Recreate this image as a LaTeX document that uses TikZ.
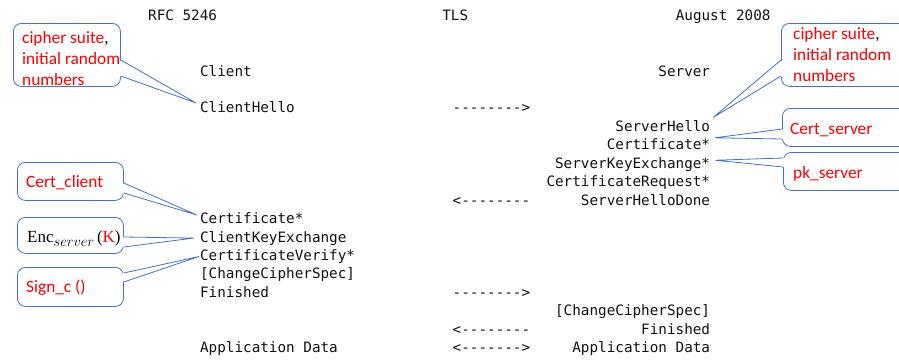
\documentclass[tikz,border=0pt]{standalone}
\usepackage{fontspec}
\setmainfont{Carlito}
\newfontfamily\monofont{DejaVu Sans Mono}
\newfontfamily\encfont{Liberation Serif}
\usetikzlibrary{calc}
\definecolor{callblue}{HTML}{4472C4}
\definecolor{notered}{HTML}{FF0000}
\definecolor{msgink}{HTML}{111111}

% pointer wedge of a callout: #1,#2 base points on the box edge, #3 tip, #4 inward shift
\newcommand\calloutwedge[4]{%
  \fill[white] ($#1+(#4,0)$) -- #3 -- ($#2+(#4,0)$) -- cycle;
  \draw[pointer] #1 -- #3 -- #2;}

\begin{document}
\begin{tikzpicture}[x=1pt,y=-1pt,
  msg/.style={font=\monofont\fontsize{14.3}{17}\selectfont, text=msgink, inner sep=0pt},
  lmsg/.style={msg, anchor=base west},
  rmsg/.style={msg, anchor=base east},
  callbox/.style={draw=callblue, line width=0.8pt, fill=white, rounded corners=8pt,
                  inner sep=0pt, anchor=north west},
  note/.style={font=\fontsize{17.3}{21}\selectfont, text=notered, inner sep=0pt, anchor=base west},
  pointer/.style={draw=callblue, line width=0.8pt, line join=miter}
]
\useasboundingbox (0,0) rectangle (899,360);

% ---- header line
\node[lmsg] (rfc)  at (148,20.6)    {RFC 5246};
\node[lmsg] (tls)  at (442.1,20.6)  {TLS};
\node[lmsg] (date) at (675.6,20.6)  {August 2008};

% ---- client column
\node[lmsg] (client)   at (199.9,76)     {Client};
\node[lmsg] (chello)   at (199.9,112.9)  {ClientHello};
\node[lmsg] (ccert)    at (199.9,223.6)  {Certificate*};
\node[lmsg] (ckex)     at (199.9,242.05) {ClientKeyExchange};
\node[lmsg] (cverify)  at (199.9,260.5)  {CertificateVerify*};
\node[lmsg] (cccs)     at (199.9,278.95) {[ChangeCipherSpec]};
\node[lmsg] (cfin)     at (199.9,297.4)  {Finished};
\node[lmsg] (cappdata) at (199.9,352.75) {Application Data};

% ---- server column
\node[rmsg] (server)   at (710.3,76)     {Server};
\node[rmsg] (shello)   at (710.3,131.35) {ServerHello};
\node[rmsg] (scert)    at (710.3,149.8)  {Certificate*};
\node[rmsg] (skex)     at (710.3,168.25) {ServerKeyExchange*};
\node[rmsg] (sreq)     at (710.3,186.7)  {CertificateRequest*};
\node[rmsg] (sdone)    at (710.3,205.15) {ServerHelloDone};
\node[rmsg] (sccs)     at (710.3,315.85) {[ChangeCipherSpec]};
\node[rmsg] (sfin)     at (710.3,334.3)  {Finished};
\node[rmsg] (sappdata) at (710.3,352.75) {Application Data};

% ---- flow arrows
\node[lmsg] (a1) at (452.5,112.9)  {-{}-{}-{}-{}-{}-{}-{}->};
\node[lmsg] (a2) at (452.5,205.15) {<-{}-{}-{}-{}-{}-{}-{}-};
\node[lmsg] (a3) at (452.5,297.4)  {-{}-{}-{}-{}-{}-{}-{}->};
\node[lmsg] (a4) at (452.5,334.3)  {<-{}-{}-{}-{}-{}-{}-{}-};
\node[lmsg] (a5) at (452.5,352.75) {<-{}-{}-{}-{}-{}-{}->};

% ---- callout boxes
\node[callbox, minimum width=107pt, minimum height=63pt] (c1) at (13,23)  {};
\node[callbox, minimum width=106pt, minimum height=38pt] (c2) at (17,162) {};
\node[callbox, minimum width=106pt, minimum height=36pt] (c3) at (17,217) {};
\node[callbox, minimum width=106pt, minimum height=39pt] (c4) at (17,267) {};
\node[callbox, minimum width=130pt, minimum height=63pt] (c5) at (781,23)  {};
\node[callbox, minimum width=130pt, minimum height=38pt] (c6) at (782,108) {};
\node[callbox, minimum width=130pt, minimum height=38pt] (c7) at (783,152) {};

% ---- callout pointers
\calloutwedge{($(c1.north east)+(0,37)$)}{($(c1.north east)+(0,53)$)}{($(chello.base west)+(-4,-10)$)}{-1.5}
\calloutwedge{($(c2.north east)+(0,21)$)}{($(c2.north east)+(0,31)$)}{($(ccert.base west)+(-3,-8.6)$)}{-1.5}
\calloutwedge{($(c3.north east)+(0,20)$)}{($(c3.north east)+(0,30)$)}{($(ckex.base west)+(-6,-4)$)}{-1.5}
\calloutwedge{($(c4.north east)+(0,6)$)}{($(c4.north east)+(0,15)$)}{($(cverify.base west)+(-1,-4)$)}{-1.5}
\calloutwedge{($(c5.north west)+(0,37)$)}{($(c5.north west)+(0,53)$)}{($(shello.base east)+(3,-14)$)}{1.5}
\calloutwedge{($(c6.north west)+(0,21)$)}{($(c6.north west)+(0,31)$)}{($(scert.base east)+(4.5,-12)$)}{1.5}
\calloutwedge{($(c7.north west)+(0,6)$)}{($(c7.north west)+(0,15)$)}{($(skex.base east)+(5,-8)$)}{1.5}

% ---- callout texts
\node[note] (n1a) at (22,43) {cipher suite\textcolor{black}{,}};
\node[note] (n1b) at (22,64) {initial random};
\node[note] (n1c) at (22,85) {numbers};
\node[note] (n2)  at (26,187) {Cert\_client};
\node[note, text=black] (n3) at (27,242)
  {\encfont\fontsize{17}{20}\selectfont Enc\raisebox{-4pt}{\fontsize{15}{16}\selectfont$server$}\,(\textcolor{notered}{K})};
\node[note] (n4)  at (26,292) {Sign\_c ()};
\node[note] (n5a) at (793,39) {cipher suite\textcolor{black}{,}};
\node[note] (n5b) at (793,60) {initial random};
\node[note] (n5c) at (793,81) {numbers};
\node[note] (n6)  at (790,134) {Cert\_server};
\node[note] (n7)  at (793,178) {pk\_server};
\end{tikzpicture}
\end{document}
